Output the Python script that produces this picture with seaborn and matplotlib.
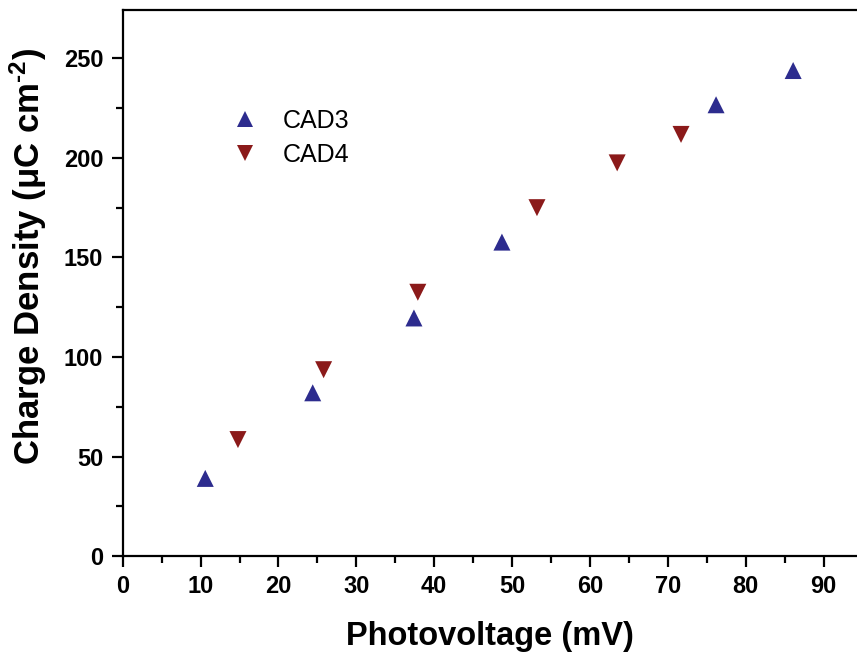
import matplotlib
matplotlib.use("Agg")
import matplotlib.pyplot as plt
import seaborn as sns
import pandas as pd
from matplotlib.ticker import MultipleLocator

# Data
cad3_x = [10.6, 24.4, 37.4, 48.7, 76.2, 86.1]
cad3_y = [39.0, 82.0, 119.6, 157.7, 226.7, 243.9]
cad4_x = [14.8, 25.8, 37.9, 53.2, 63.5, 71.7]
cad4_y = [58.5, 93.6, 132.5, 175.0, 197.5, 211.8]
series_names = ["CAD3", "CAD4"]

df = pd.DataFrame({
    "x": cad3_x + cad4_x,
    "y": cad3_y + cad4_y,
    "series": [series_names[0]] * len(cad3_x) + [series_names[1]] * len(cad4_x),
})

sns.set_style("ticks")
plt.rcParams["font.family"] = ["Liberation Sans", "DejaVu Sans"]
plt.rcParams["text.color"] = "black"
plt.rcParams["axes.labelcolor"] = "black"
plt.rcParams["xtick.color"] = "black"
plt.rcParams["ytick.color"] = "black"
plt.rcParams["mathtext.fontset"] = "custom"
plt.rcParams["mathtext.rm"] = "Liberation Sans:bold"
plt.rcParams["mathtext.it"] = "Liberation Sans:bold"
plt.rcParams["mathtext.bf"] = "Liberation Sans:bold"
plt.rcParams["mathtext.default"] = "rm"

fig = plt.figure(figsize=(8.57, 6.54), dpi=100)
ax = fig.add_axes([0.1432, 0.1498, 0.8568, 0.8349])

palette = {"CAD3": "#2d2c8e", "CAD4": "#8b1a1a"}
markers = {"CAD3": "^", "CAD4": "v"}
sns.scatterplot(data=df, x="x", y="y", hue="series", style="series",
                palette=palette, markers=markers, s=150, linewidth=0,
                ax=ax, legend=True)

ax.set_xlim(0, 94.3)
ax.set_ylim(0, 274.3)
ax.xaxis.set_major_locator(MultipleLocator(10))
ax.xaxis.set_minor_locator(MultipleLocator(5))
ax.yaxis.set_major_locator(MultipleLocator(50))
ax.yaxis.set_minor_locator(MultipleLocator(25))

for side in ["left", "bottom", "top"]:
    ax.spines[side].set_linewidth(1.6)
    ax.spines[side].set_color("black")
ax.spines["right"].set_visible(False)

ax.tick_params(axis="both", which="major", direction="out", length=8, width=1.6,
               labelsize=17, pad=6, top=False, right=False, colors="black")
ax.tick_params(axis="both", which="minor", direction="out", length=5, width=1.6,
               top=False, right=False, colors="black")
for lbl in ax.get_xticklabels() + ax.get_yticklabels():
    lbl.set_fontweight("bold")

ax.set_xlabel("Photovoltage (mV)", fontsize=23.5, fontweight="bold", labelpad=16,
              color="black")
ax.set_ylabel("Charge Density (\u03bcC cm$^{\\text{-2}}$)", fontsize=25,
              fontweight="bold", color="black")
ax.yaxis.set_label_coords(-0.101, 0.548)

leg = ax.legend(loc="upper left", bbox_to_anchor=(0.119, 0.837), frameon=False,
                fontsize=18, handletextpad=0.52, labelspacing=0.4,
                borderaxespad=0)
for h in leg.legend_handles:
    try:
        h.set_markersize(12.2)
    except AttributeError:
        pass
for t in leg.get_texts():
    t.set_color("black")

fig.savefig("out.png", dpi=100)
